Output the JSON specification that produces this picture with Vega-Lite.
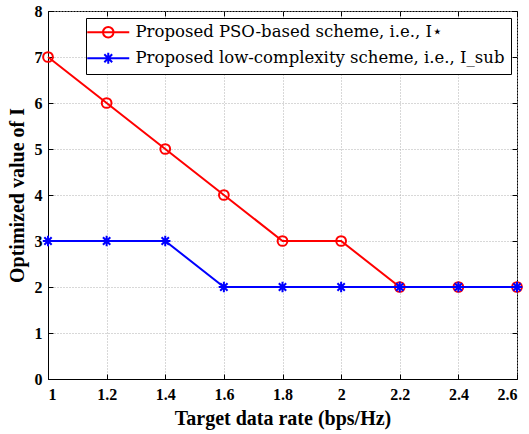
{
  "$schema": "https://vega.github.io/schema/vega-lite/v6.json",
  "width": 469,
  "height": 368,
  "autosize": {"type": "none"},
  "padding": {"left": 48, "top": 11, "right": 12, "bottom": 55},
  "background": "white",
  "config": {
    "view": {"stroke": "black", "strokeWidth": 1},
    "font": "Liberation Serif"
  },
  "data": {
    "values": [
      {"rate": 1.0, "value": 7, "series": "PSO"},
      {"rate": 1.2, "value": 6, "series": "PSO"},
      {"rate": 1.4, "value": 5, "series": "PSO"},
      {"rate": 1.6, "value": 4, "series": "PSO"},
      {"rate": 1.8, "value": 3, "series": "PSO"},
      {"rate": 2.0, "value": 3, "series": "PSO"},
      {"rate": 2.2, "value": 2, "series": "PSO"},
      {"rate": 2.4, "value": 2, "series": "PSO"},
      {"rate": 2.6, "value": 2, "series": "PSO"},
      {"rate": 1.0, "value": 3, "series": "LOW"},
      {"rate": 1.2, "value": 3, "series": "LOW"},
      {"rate": 1.4, "value": 3, "series": "LOW"},
      {"rate": 1.6, "value": 2, "series": "LOW"},
      {"rate": 1.8, "value": 2, "series": "LOW"},
      {"rate": 2.0, "value": 2, "series": "LOW"},
      {"rate": 2.2, "value": 2, "series": "LOW"},
      {"rate": 2.4, "value": 2, "series": "LOW"},
      {"rate": 2.6, "value": 2, "series": "LOW"}
    ]
  },
  "layer": [
    {
      "encoding": {
        "x": {
          "field": "rate", "type": "quantitative",
          "scale": {"domain": [1, 2.6], "nice": false, "zero": false},
          "axis": {
            "values": [1, 1.2, 1.4, 1.6, 1.8, 2, 2.2, 2.4, 2.6],
            "format": "~g",
            "title": "Target data rate (bps/Hz)",
            "titleFont": "Liberation Serif", "titleFontSize": 20, "titleFontWeight": "bold", "titleColor": "black",
            "titlePadding": 6,
            "labelFont": "Liberation Serif", "labelFontSize": 16, "labelFontWeight": "bold", "labelColor": "black",
            "labelPadding": 12,
            "tickSize": -5, "tickColor": "black",
            "domainColor": "black",
            "grid": true, "gridColor": "#b0b0b0", "gridDash": [1, 2], "gridWidth": 1
          }
        },
        "y": {
          "field": "value", "type": "quantitative",
          "scale": {"domain": [0, 8], "nice": false},
          "axis": {
            "values": [0, 1, 2, 3, 4, 5, 6, 7, 8],
            "title": "Optimized value of I",
            "titleFont": "Liberation Serif", "titleFontSize": 20, "titleFontWeight": "bold", "titleColor": "black",
            "titlePadding": 7,
            "labelFont": "Liberation Serif", "labelFontSize": 16, "labelFontWeight": "bold", "labelColor": "black",
            "labelPadding": 11,
            "tickSize": -5, "tickColor": "black",
            "domainColor": "black",
            "grid": true, "gridColor": "#b0b0b0", "gridDash": [1, 2], "gridWidth": 1
          }
        }
      },
      "layer": [
        {
          "transform": [{"filter": "datum.series === 'PSO'"}],
          "mark": {"type": "line", "color": "#ff0000", "strokeWidth": 2}
        },
        {
          "transform": [{"filter": "datum.series === 'PSO'"}],
          "mark": {"type": "point", "shape": "circle", "filled": false, "color": "#ff0000", "strokeWidth": 2, "size": 95, "opacity": 1}
        },
        {
          "transform": [{"filter": "datum.series === 'LOW'"}],
          "mark": {"type": "line", "color": "#0000ff", "strokeWidth": 2}
        },
        {
          "transform": [{"filter": "datum.series === 'LOW'"}],
          "mark": {"type": "point", "shape": "M-1,0H1M0,-1V1M-0.7,-0.7L0.7,0.7M-0.7,0.7L0.7,-0.7", "filled": false, "color": "#0000ff", "strokeWidth": 2, "size": 110, "opacity": 1}
        },
        {
          "transform": [{"filter": "false"}],
          "mark": {"type": "point", "filled": false, "strokeWidth": 2, "size": 196, "opacity": 1},
          "encoding": {
            "color": {
              "field": "series", "type": "nominal",
              "scale": {"domain": ["PSO", "LOW"], "range": ["#ff0000", "#0000ff"]},
              "legend": {
                "orient": "none", "legendX": 38, "legendY": 7,
                "title": null,
                "labelExpr": "datum.value === 'PSO' ? 'Proposed PSO-based scheme, i.e., I⋆' : 'Proposed low-complexity scheme, i.e., I_sub'",
                "labelFont": "DejaVu Serif", "labelFontSize": 16.5, "labelColor": "black", "labelLimit": 0,
                "labelOffset": 19,
                "symbolSize": 196, "symbolStrokeWidth": 2, "symbolOffset": 8,
                "rowPadding": 6,
                "padding": 6,
                "strokeColor": "black", "fillColor": "white", "cornerRadius": 0
              }
            },
            "shape": {
              "field": "series", "type": "nominal",
              "scale": {"domain": ["PSO", "LOW"], "range": [
                "M-3,0H3M-0.75,0A0.75,0.75 0 1,1 0.75,0A0.75,0.75 0 1,1 -0.75,0",
                "M-3,0H3M0,-0.8V0.8M-0.56,-0.56L0.56,0.56M-0.56,0.56L0.56,-0.56"
              ]},
              "legend": {
                "orient": "none", "legendX": 38, "legendY": 7,
                "title": null,
                "labelExpr": "datum.value === 'PSO' ? 'Proposed PSO-based scheme, i.e., I⋆' : 'Proposed low-complexity scheme, i.e., I_sub'",
                "labelFont": "DejaVu Serif", "labelFontSize": 16.5, "labelColor": "black", "labelLimit": 0,
                "labelOffset": 19,
                "symbolSize": 196, "symbolStrokeWidth": 2, "symbolOffset": 8,
                "rowPadding": 6,
                "padding": 6,
                "strokeColor": "black", "fillColor": "white", "cornerRadius": 0
              }
            }
          }
        }
      ]
    },
    {
      "mark": {"type": "point", "opacity": 0},
      "encoding": {
        "x": {
          "field": "rate", "type": "quantitative",
          "axis": {"orient": "top", "values": [1, 1.2, 1.4, 1.6, 1.8, 2, 2.2, 2.4, 2.6], "labels": false, "title": null, "grid": false, "domain": false, "tickSize": -5, "tickColor": "black"}
        },
        "y": {
          "field": "value", "type": "quantitative",
          "axis": {"orient": "right", "values": [0, 1, 2, 3, 4, 5, 6, 7, 8], "labels": false, "title": null, "grid": false, "domain": false, "tickSize": -5, "tickColor": "black"}
        }
      }
    }
  ],
  "resolve": {"axis": {"x": "independent", "y": "independent"}}
}
